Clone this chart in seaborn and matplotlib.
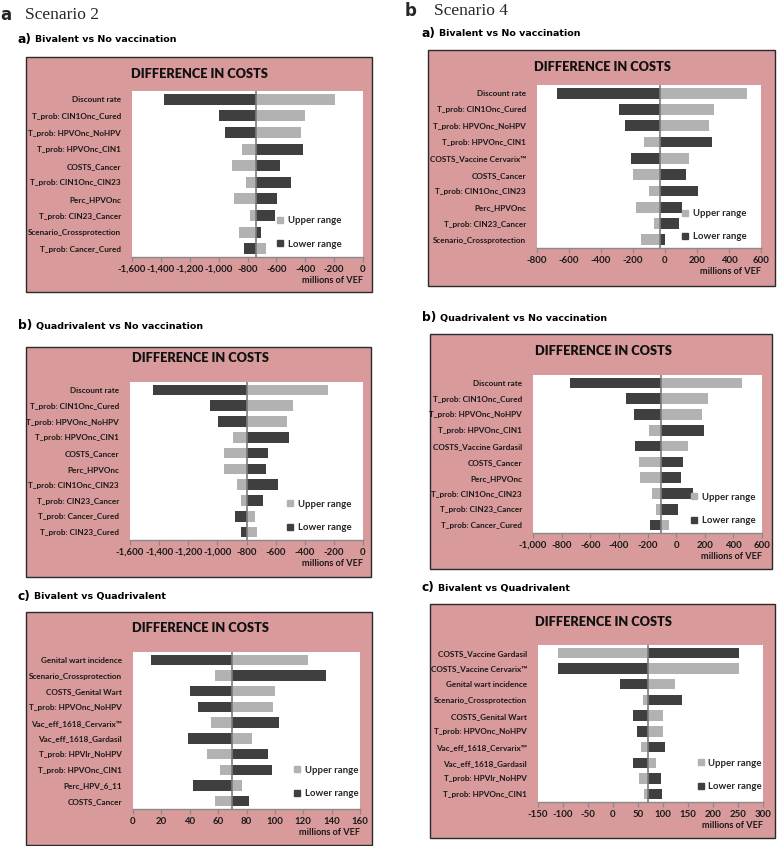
import matplotlib
matplotlib.use("Agg")
import matplotlib.pyplot as plt
from matplotlib.patches import Rectangle
from matplotlib.lines import Line2D
from matplotlib.text import Annotation
from matplotlib.ticker import FuncFormatter, MultipleLocator
import seaborn as sns
import pandas as pd

# ---------------- data ----------------
# Scenario 2 (a)
A1_labels = ["Discount rate", "T_prob: CIN1Onc_Cured", "T_prob: HPVOnc_NoHPV", "T_prob: HPVOnc_CIN1",
             "COSTS_Cancer", "T_prob: CIN1Onc_CIN23", "Perc_HPVOnc", "T_prob: CIN23_Cancer",
             "Scenario_Crossprotection", "T_prob: Cancer_Cured"]
A1_upper = [-197, -405, -428, -838, -905, -808, -894, -780, -859, -669]
A1_lower = [-1378, -996, -956, -419, -572, -500, -597, -609, -709, -822]
A1_base = -740

A2_labels = ["Discount rate", "T_prob: CIN1Onc_Cured", "T_prob: HPVOnc_NoHPV", "T_prob: HPVOnc_CIN1",
             "COSTS_Cancer", "Perc_HPVOnc", "T_prob: CIN1Onc_CIN23", "T_prob: CIN23_Cancer",
             "T_prob: Cancer_Cured", "T_prob: CIN23_Cured"]
A2_upper = [-242, -480, -521, -891, -955, -955, -864, -839, -741, -725]
A2_lower = [-1442, -1049, -997, -507, -651, -665, -581, -686, -880, -839]
A2_base = -800

A3_labels = ["Genital wart incidence", "Scenario_Crossprotection", "COSTS_Genital Wart",
             "T_prob: HPVOnc_NoHPV", "Vac_eff_1618_Cervarix\u2122", "Vac_eff_1618_Gardasil",
             "T_prob: HPVlr_NoHPV", "T_prob: HPVOnc_CIN1", "Perc_HPV_6_11", "COSTS_Cancer"]
A3_upper = [123, 58, 100, 99, 55, 84, 52, 61, 77, 58]
A3_lower = [13, 136, 40, 46, 103, 39, 95, 98, 42, 82]
A3_base = 70

# Scenario 4 (b)
B1_labels = ["Discount rate", "T_prob: CIN1Onc_Cured", "T_prob: HPVOnc_NoHPV", "T_prob: HPVOnc_CIN1",
             "COSTS_Vaccine Cervarix\u2122", "COSTS_Cancer", "T_prob: CIN1Onc_CIN23", "Perc_HPVOnc",
             "T_prob: CIN23_Cancer", "Scenario_Crossprotection"]
B1_upper = [513, 309, 278, -132, 149, -199, -99, -184, -70, -151]
B1_lower = [-673, -286, -253, 292, -215, 130, 205, 109, 90, 0]
B1_base = -33

B2_labels = ["Discount rate", "T_prob: CIN1Onc_Cured", "T_prob: HPVOnc_NoHPV", "T_prob: HPVOnc_CIN1",
             "COSTS_Vaccine Gardasil", "COSTS_Cancer", "Perc_HPVOnc", "T_prob: CIN1Onc_CIN23",
             "T_prob: CIN23_Cancer", "T_prob: Cancer_Cured"]
B2_upper = [462, 220, 181, -192, 80, -260, -250, -166, -138, -47]
B2_lower = [-740, -351, -297, 192, -288, 49, 33, 120, 12, -180]
B2_base = -103

B3_labels = ["COSTS_Vaccine Gardasil", "COSTS_Vaccine Cervarix\u2122", "Genital wart incidence",
             "Scenario_Crossprotection", "COSTS_Genital Wart", "T_prob: HPVOnc_NoHPV",
             "Vac_eff_1618_Cervarix\u2122", "Vac_eff_1618_Gardasil", "T_prob: HPVlr_NoHPV",
             "T_prob: HPVOnc_CIN1"]
B3_upper = [-111, 252, 123, 59, 99, 99, 55, 85, 52, 61]
B3_lower = [252, -111, 13, 137, 40, 48, 103, 40, 95, 98]
B3_base = 69

LIGHT = "#b2b2b2"
DARK = "#3f3f3f"
PINK = "#d99a9b"

W, H = 778, 846
sns.set_theme(style="white")
plt.rcParams["font.family"] = ["Lato", "DejaVu Sans"]

fig = plt.figure(figsize=(W / 100, H / 100), dpi=100)
fig.patch.set_facecolor("white")


def fx(x):
    return x / W


def fy(y):
    return 1 - y / H


def panel(box, inner, title_xy, heading_xy, heading, labels, upper, lower, base,
          xlim, step, leg_xy):
    x0, y0, x1, y1 = box
    fig.add_artist(Rectangle((fx(x0), fy(y1)), fx(x1 - x0), (y1 - y0) / H,
                             transform=fig.transFigure, facecolor=PINK,
                             edgecolor="#2a2a2a", lw=1.0, zorder=0))
    ix0, iy0, ix1, iy1 = inner
    ax = fig.add_axes([fx(ix0), fy(iy1), fx(ix1 - ix0), (iy1 - iy0) / H])
    ax.set_facecolor("white")
    df = pd.DataFrame({"param": labels,
                       "up": [u - base for u in upper],
                       "lo": [l - base for l in lower]})
    sns.barplot(data=df, y="param", x="up", color=LIGHT, saturation=1, width=0.66,
                orient="h", left=base, ax=ax, linewidth=0)
    sns.barplot(data=df, y="param", x="lo", color=DARK, saturation=1, width=0.66,
                orient="h", left=base, ax=ax, linewidth=0)
    ax.axvline(base, color="#7a7a7a", lw=1.2, zorder=5)
    ax.set_xlim(*xlim)
    ax.xaxis.set_major_locator(MultipleLocator(step))
    ax.xaxis.set_major_formatter(FuncFormatter(lambda v, p: f"{v:,.0f}"))
    for s in ["top", "right", "left"]:
        ax.spines[s].set_visible(False)
    ax.spines["bottom"].set_color("#8a8a8a")
    ax.spines["bottom"].set_linewidth(1.0)
    ax.tick_params(axis="x", which="major", bottom=True, length=3.5, width=0.9,
                   color="#8a8a8a", pad=2, labelsize=6.9, labelcolor="#1a1a1a")
    ax.tick_params(axis="y", left=False, pad=2, labelsize=5.9, labelcolor="#1a1a1a")
    for t in ax.get_xticklabels():
        t.set_fontweight("bold")
    for t in ax.get_yticklabels():
        t.set_fontweight("bold")
    ax.set_ylabel("")
    ax.set_xlabel("millions of VEF", loc="right", fontsize=6.6, fontweight="bold",
                  color="#1a1a1a", labelpad=2)
    handles = [Line2D([], [], marker="s", color=LIGHT, ls="none", markersize=4.2),
               Line2D([], [], marker="s", color=DARK, ls="none", markersize=4.2)]
    ax.legend(handles, ["Upper range", "Lower range"], loc="lower left",
              bbox_to_anchor=leg_xy, frameon=False, labelspacing=1.5,
              handlelength=0.6, handletextpad=0.5, borderpad=0, borderaxespad=0,
              prop={"weight": "bold", "size": 6.9})
    fig.text(fx(title_xy[0]), fy(title_xy[1]), "DIFFERENCE IN COSTS", ha="center",
             va="center", fontsize=9.2, fontweight="heavy", color="#111111")
    letter, rest = heading.split(" ", 1)
    t1 = fig.text(fx(heading_xy[0]), fy(heading_xy[1]), letter, ha="left", va="center",
                  fontsize=8.8, fontweight="bold", family=["DejaVu Sans"], color="black")
    fig.add_artist(Annotation(rest, xy=(1.0, 0.5), xycoords=t1, xytext=(2.5, 0),
                              textcoords="offset points", ha="left", va="center",
                              fontsize=6.8, fontweight="heavy", family=["DejaVu Sans"],
                              color="black"))
    return ax


# Scenario headers
fig.text(fx(0), fy(15), "a", ha="left", va="center", fontsize=12, fontweight="bold",
         family=["DejaVu Sans"])
fig.text(fx(25), fy(15), "Scenario 2", ha="left", va="center", fontsize=12.5,
         family=["Liberation Serif"])
fig.text(fx(405), fy(11), "b", ha="left", va="center", fontsize=12, fontweight="bold",
         family=["DejaVu Sans"])
fig.text(fx(434), fy(11), "Scenario 4", ha="left", va="center", fontsize=12.5,
         family=["Liberation Serif"])

panel((26, 57, 372, 292), (132, 91, 363, 257), (199, 74), (18, 40),
      "a) Bivalent vs No vaccination", A1_labels, A1_upper, A1_lower, A1_base,
      (-1600, 0), 200, (0.63, 0.05))
panel((26, 347, 371, 577), (130, 382, 363, 540), (200, 358), (18, 326),
      "b) Quadrivalent vs No vaccination", A2_labels, A2_upper, A2_lower, A2_base,
      (-1600, 0), 200, (0.675, 0.05))
panel((26, 612, 372, 845), (133, 652, 360, 809), (200, 628), (18, 596),
      "c) Bivalent vs Quadrivalent", A3_labels, A3_upper, A3_lower, A3_base,
      (0, 160), 20, (0.71, 0.07))
panel((428, 50, 775, 286), (537, 85, 761, 248), (602, 67), (422, 33),
      "a) Bivalent vs No vaccination", B1_labels, B1_upper, B1_lower, B1_base,
      (-800, 600), 200, (0.65, 0.04))
panel((430, 334, 772, 569), (533, 375, 762, 533), (603, 351), (422, 318),
      "b) Quadrivalent vs No vaccination", B2_labels, B2_upper, B2_lower, B2_base,
      (-1000, 600), 200, (0.69, 0.05))
panel((430, 604, 775, 838), (538, 645, 763, 802), (603, 622), (422, 588),
      "c) Bivalent vs Quadrivalent", B3_labels, B3_upper, B3_lower, B3_base,
      (-150, 300), 50, (0.71, 0.07))

fig.savefig("out.png", dpi=100)
